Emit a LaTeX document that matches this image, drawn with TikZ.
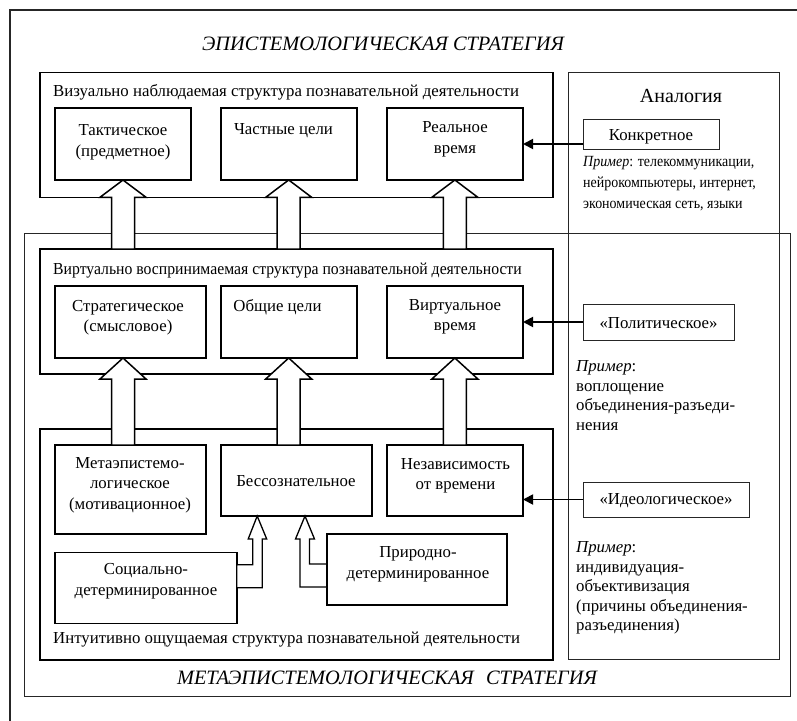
\documentclass[tikz,border=0pt]{standalone}
\usepackage{fontspec}
\setmainfont{Liberation Serif}
\newfontfamily\condfont[FakeStretch=0.9]{Liberation Serif}
\newfontfamily\narrowfont[FakeStretch=0.936]{Liberation Serif}
\usetikzlibrary{calc,fit,arrows.meta}
\newcommand\fs{\fontsize{16.8bp}{20.5bp}\selectfont}
\newcommand\fex{\fontsize{16.8bp}{19.5bp}\selectfont}
\newcommand\vblk[3]{\draw[blk] (#1) -- ++(23,#3) -- ++(-11.5,0) -- ($(#2)+(11.5,0)$) -- ($(#2)+(-11.5,0)$) -- ($(#1)+(-11.5,#3)$) -- ++(-11.5,0) -- cycle;}
\begin{document}
\begin{tikzpicture}[x=1bp,y=-1bp,
 frm/.style={draw=black!85, line width=0.9bp, inner sep=0, outer sep=0},
 box/.style={draw, line width=1.6bp, inner sep=0, outer sep=0},
 txt/.style={inner sep=0, align=center, font=\fs},
 lt/.style={inner sep=0, align=left, anchor=north west, font=\fex},
 blk/.style={draw, line width=1.5bp, fill=white, line join=miter},
 blks/.style={draw, line width=1.3bp, fill=white, line join=miter},
 harr/.style={draw, line width=1.8bp, -{Triangle[length=10bp,width=10bp]}},
 ttl/.style={inner sep=0, font=\fontsize{20.4bp}{24bp}\selectfont\itshape}
]
\useasboundingbox (0,0) rectangle (797,721);
% frames
\draw[frm, line width=1.2bp] (10,721) -- (10,10) -- (797,10);
\node[frm, fit={(24.3,233) (790,696)}] (meta) {};
\node[frm, fit={(568,72.7) (779,659)}] (anal) {};
% big boxes
\node[box, fit={(40,72.7) (553,197.3)}] (vis) {};
\node[box, fit={(40,249) (553,374)}] (virt) {};
\node[box, fit={(40,429) (553,660)}] (intu) {};
% row 1
\node[box, fit={(55,108) (191,180)}] (tact) {};
\node[box, fit={(220.7,108) (356.7,180)}] (cel) {};
\node[box, fit={(386.7,108) (523,180)}] (real) {};
% row 2
\node[box, fit={(55,286) (205.7,358)}] (strat) {};
\node[box, fit={(220.7,286) (356.7,358)}] (obsh) {};
\node[box, fit={(386.7,286) (523,358)}] (vtime) {};
% row 3
\node[box, fit={(55,445) (205.7,534)}] (metab) {};
\node[box, fit={(220.7,445) (371.7,516)}] (bess) {};
\node[box, fit={(386.7,445) (523,516)}] (nez) {};
\node[box, fit={(55,552.3) (236.7,623.3)}] (soc) {};
\node[box, fit={(326.7,534) (507,605)}] (prir) {};
% right boxes
\node[frm, fit={(583,119) (719,149)}] (konk) {};
\node[frm, fit={(583,304) (734,340)}] (pol) {};
\node[frm, fit={(583,482) (749,517)}] (ideo) {};
% texts
\node[ttl] (t1) at (383,44) {ЭПИСТЕМОЛОГИЧЕСКАЯ СТРАТЕГИЯ};
\node[txt, font=\fontsize{20bp}{24bp}\selectfont] (tan) at (681,95.5) {Аналогия};
\node[txt, anchor=west] (tvis) at (53,92) {Визуально наблюдаемая структура познавательной деятельности};
\node[txt] (ttact) at (123,142.5) {Тактическое\\(предметное)};
\node[txt] (tcel) at (283.5,130.5) {Частные цели};
\node[txt] (treal) at (455,139.5) {Реальное\\время};
\node[txt, anchor=west, font=\narrowfont\fontsize{16.8bp}{20.5bp}\selectfont] (tvirt) at (53,270.5) {Виртуально воспринимаемая структура познавательной деятельности};
\node[txt] (tstrat) at (128,317.5) {Стратегическое\\(смысловое)};
\node[txt] (tobsh) at (277.5,307.5) {Общие цели};
\node[txt] (tvtime) at (455,317) {Виртуальное\\время};
\node[txt] (tmetab) at (130,485) {Метаэпистемо-\\логическое\\(мотивационное)};
\node[txt] (tbess) at (296,481.5) {Бессознательное};
\node[txt] (tnez) at (455.5,476) {Независимость\\от времени};
\node[txt] (tsoc) at (146,581) {Социально-\\детерминированное};
\node[txt] (tprir) at (418,564.5) {Природно-\\детерминированное};
\node[txt, anchor=west] (tintu) at (53,640) {Интуитивно ощущаемая структура познавательной деятельности};
\node[ttl] (t2) at (387,678) {МЕТАЭПИСТЕМОЛОГИЧЕСКАЯ\hspace{0.6em}СТРАТЕГИЯ};
\node[txt] (tkonk) at (651,136.5) {Конкретное};
\node[txt] (tpol) at (658.5,323) {«Политическое»};
\node[txt] (tideo) at (666,501) {«Идеологическое»};
\node[lt, font=\condfont\fontsize{15.5bp}{21bp}\selectfont] (ex1) at (583,156.5) {\textit{Пример}: телекоммуникации,\\нейрокомпьютеры, интернет,\\экономическая сеть, языки};
\node[lt] (ex2) at (576,360.5) {\textit{Пример}:\\воплощение\\объединения-разъеди-\\нения};
\node[lt] (ex3) at (576,541.5) {\textit{Пример}:\\индивидуация-\\объективизация\\(причины объединения-\\разъединения)};
% block arrows
\coordinate (b1) at (tact.south |- virt.north);
\coordinate (b2) at (cel.south |- virt.north);
\coordinate (b3) at (real.south |- virt.north);
\coordinate (a1) at (tact.south |- strat.south);
\coordinate (c1) at (tact.south |- metab.north);
\coordinate (c2) at (obsh.south |- bess.north);
\coordinate (c3) at (vtime.south |- nez.north);
\vblk{tact.south}{b1}{17.3}
\vblk{cel.south}{b2}{17.3}
\vblk{real.south}{b3}{17.3}
\vblk{a1}{c1}{21}
\vblk{obsh.south}{c2}{21}
\vblk{vtime.south}{c3}{21}
% elbow arrows
\coordinate (e1) at ($(bess.south west)+(36.5,0)$);
\coordinate (e2) at ($(bess.south west)+(84.3,0)$);
\draw[blks] (e1) -- ++(9.5,23) -- ++(-4.5,0) |- (soc.east) -- ++(0,-23) -| ($(e1)+(-4.5,23)$) -- ++(-4.5,0) -- cycle;
\draw[blks] (e2) -- ++(9.5,23) -- ++(-5,0) |- ($(prir.west)+(0,-5.5)$) -- ($(prir.west)+(0,17.5)$) -| ($(e2)+(-5,23)$) -- ++(-4.5,0) -- cycle;
% horizontal arrows
\draw[harr] (konk.west |- real.east) -- (real.east);
\draw[harr] (pol.west) -- (vtime.east);
\draw[harr] (ideo.west) -- (ideo.west -| nez.east);
\end{tikzpicture}
\end{document}
